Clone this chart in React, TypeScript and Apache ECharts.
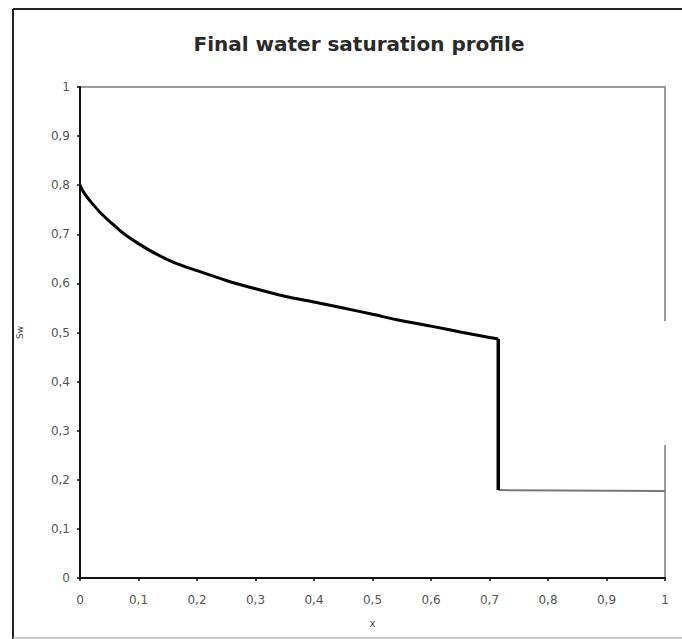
import React, { useEffect, useRef } from "react";
import * as echarts from "echarts";

// Water saturation behind the front at the final time step
const frontX = [0, 0.005, 0.01, 0.02, 0.035, 0.05, 0.075, 0.1, 0.13, 0.16, 0.2, 0.25, 0.3, 0.35, 0.4, 0.45, 0.5, 0.55, 0.6, 0.65, 0.7, 0.715];
const frontSw = [0.8, 0.788, 0.779, 0.764, 0.744, 0.727, 0.701, 0.681, 0.66, 0.643, 0.626, 0.606, 0.589, 0.574, 0.562, 0.55, 0.537, 0.524, 0.513, 0.501, 0.49, 0.487];
// Shock front
const shockX = [0.715, 0.715];
const shockSw = [0.487, 0.179];
// Initial saturation ahead of the shock
const tailX = [0.715, 1];
const tailSw = [0.179, 0.177];

const fmt = (v: number) => String(Math.round(v * 10) / 10).replace(".", ",");

export default function App() {
  const ref = useRef<HTMLDivElement>(null);
  useEffect(() => {
    if (!ref.current) return;
    const chart = echarts.init(ref.current, null, { renderer: "svg" });
    const font = "Verdana, 'DejaVu Sans', sans-serif";
    const pair = (xs: number[], ys: number[]) => xs.map((x, i) => [x, ys[i]]);
    chart.setOption({
      animation: false,
      backgroundColor: "#fff",
      title: {
        text: "Final water saturation profile",
        left: 354,
        textAlign: "center",
        top: 29,
        textStyle: { fontFamily: font, fontWeight: "bold", fontSize: 20, color: "#2a2a2a" },
      },
      grid: {
        left: 80,
        top: 87,
        right: 17,
        bottom: 61,
        show: true,
        borderColor: "#9a9a9a",
        borderWidth: 2,
        backgroundColor: "transparent",
      },
      xAxis: {
        type: "value",
        min: 0,
        max: 1,
        interval: 0.1,
        name: "x",
        nameLocation: "middle",
        nameGap: 40,
        nameTextStyle: { fontFamily: font, fontSize: 10, color: "#444" },
        axisLine: { lineStyle: { color: "#111", width: 2 } },
        axisTick: { show: true, length: 3, lineStyle: { color: "#111", width: 1.5 } },
        axisLabel: { fontFamily: font, fontSize: 12, color: "#555", margin: 16, formatter: (v: number) => fmt(v) },
        splitLine: { show: false },
      },
      yAxis: {
        type: "value",
        min: 0,
        max: 1,
        interval: 0.1,
        name: "Sw",
        nameLocation: "middle",
        nameGap: 56,
        nameRotate: 90,
        nameTextStyle: { fontFamily: font, fontSize: 9, color: "#444" },
        axisLine: { lineStyle: { color: "#111", width: 2 } },
        axisTick: { show: true, length: 3, lineStyle: { color: "#111", width: 1.5 } },
        axisLabel: {
          fontFamily: font,
          fontSize: 12,
          color: "#555",
          margin: 10,
          formatter: (v: number) => fmt(v),
        },
        splitLine: { show: false },
      },
      graphic: [
        { type: "line", shape: { x1: 13, y1: 9, x2: 690, y2: 9 }, style: { stroke: "#222", lineWidth: 2 }, z: 100 },
        { type: "line", shape: { x1: 13, y1: 9, x2: 13, y2: 639 }, style: { stroke: "#222", lineWidth: 2 }, z: 100 },
        { type: "line", shape: { x1: 13, y1: 638, x2: 690, y2: 638 }, style: { stroke: "#bbb", lineWidth: 1.5 }, z: 100 },
        { type: "rect", shape: { x: 660, y: 321, width: 12, height: 124 }, style: { fill: "#fff" }, z: 100 },
      ],
      series: [
        {
          type: "line",
          data: pair(frontX, frontSw),
          showSymbol: false,
          smooth: 0.3,
          lineStyle: { color: "#000", width: 3 },
          z: 3,
        },
        {
          type: "line",
          data: pair(shockX, shockSw),
          showSymbol: false,
          lineStyle: { color: "#000", width: 3.5 },
          z: 3,
        },
        {
          type: "line",
          data: pair(tailX, tailSw),
          showSymbol: false,
          lineStyle: { color: "#777", width: 2 },
          z: 2,
        },
      ],
    });
    return () => chart.dispose();
  }, []);
  return <div ref={ref} style={{ position: "fixed", left: 0, top: 0, width: 682, height: 639 }} />;
}
